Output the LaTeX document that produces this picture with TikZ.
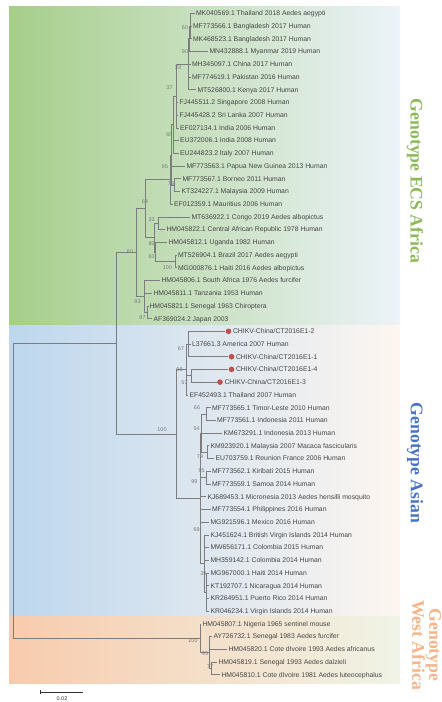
\documentclass[tikz,border=0pt]{standalone}
\usepackage{fontspec}
\setmainfont{Liberation Sans}
\newfontfamily\genofont{Liberation Serif}
\definecolor{treegray}{RGB}{125,125,125}
\definecolor{leafgray}{RGB}{70,70,70}
\definecolor{bsgray}{RGB}{120,120,120}
\definecolor{dotred}{RGB}{190,80,77}
\definecolor{ecsL}{RGB}{166,206,138}
\definecolor{ecsR}{RGB}{236,243,249}
\definecolor{asL}{RGB}{189,215,238}
\definecolor{asR}{RGB}{253,246,240}
\definecolor{waL}{RGB}{248,203,173}
\definecolor{waR}{RGB}{240,244,230}
\definecolor{ecsgreen}{RGB}{140,185,88}
\definecolor{asianblue}{RGB}{70,115,195}
\definecolor{waorange}{RGB}{245,180,135}
\begin{document}
\begin{tikzpicture}[x=1pt,y=-1pt,
  branch/.style={draw=treegray, line width=0.6pt},
  leaf/.style={anchor=base west, inner sep=0pt, xshift=1.3pt, yshift=-2.4pt, font=\fontsize{6.85}{8}\selectfont, text=leafgray},
  bs/.style={inner sep=0pt, font=\fontsize{5.4}{6}\selectfont, text=bsgray},
  reddot/.style={circle, fill=dotred, inner sep=0pt, minimum size=5.6pt, anchor=west, xshift=0.5pt},
  geno/.style={font=\genofont\bfseries\fontsize{17.7}{17}\selectfont, inner sep=0pt, rotate=-90, align=center}]
\useasboundingbox (0,0) rectangle (442,702);
% bands
\path[left color=ecsL, right color=ecsR] (9,6.7) rectangle (400,325.7);
\path[left color=asL, right color=asR] (9,325.7) rectangle (400,616.5);
\path[left color=waL, right color=waR] (9,616.5) rectangle (400,683.3);
% ECS leaves
\coordinate (l1) at (194.5,13.3);
\coordinate (l2) at (191.5,26.0);
\coordinate (l3) at (191.5,38.7);
\coordinate (l4) at (208,51.5);
\coordinate (l5) at (190.5,64.2);
\coordinate (l6) at (190.5,76.9);
\coordinate (l7) at (196,89.6);
\coordinate (l8) at (178,102.3);
\coordinate (l9) at (178,115.0);
\coordinate (l10) at (178.5,127.8);
\coordinate (l11) at (178.5,140.5);
\coordinate (l12) at (178.5,153.2);
\coordinate (l13) at (185,165.9);
\coordinate (l14) at (181,178.7);
\coordinate (l15) at (180,191.4);
\coordinate (l16) at (172.5,204.1);
\coordinate (l17) at (190,216.8);
\coordinate (l18) at (165,229.5);
\coordinate (l19) at (167,242.3);
\coordinate (l20) at (176.5,255.0);
\coordinate (l21) at (176.5,267.7);
\coordinate (l22) at (160,280.4);
\coordinate (l23) at (152,293.1);
\coordinate (l24) at (148,305.9);
\coordinate (l25) at (152,318.6);
% ECS internal
\coordinate (Na) at (190.7,26.0);
\coordinate (Nb) at (189.5,38.75);
\coordinate (Nc) at (188.3,64.2);
\coordinate (Nd) at (176.0,96.0);
\coordinate (Ne) at (173.5,124.6);
\coordinate (Ng) at (174.5,185.05);
\coordinate (Nf) at (171.5,154.8);
\coordinate (Niol) at (170,179.5);
\coordinate (Nthree) at (158.3,223.15);
\coordinate (Nhund) at (175.5,261.35);
\coordinate (Nsixty) at (155.5,251.8);
\coordinate (Neighty) at (154.5,237.5);
\coordinate (Nsixfour) at (145,208.5);
\coordinate (Nnineseven) at (147.5,312.25);
\coordinate (Nninethree) at (144,296.3);
\coordinate (Necs) at (136.7,252.4);
% Asian leaves
\coordinate (l26) at (225,331.3);
\coordinate (l27) at (190.5,344.0);
\coordinate (l28) at (228,356.7);
\coordinate (l29) at (228,369.4);
\coordinate (l30) at (216.5,382.1);
\coordinate (l31) at (188,394.9);
\coordinate (l32) at (210.5,407.6);
\coordinate (l33) at (215.5,420.3);
\coordinate (l34) at (222,433.0);
\coordinate (l35) at (209,445.7);
\coordinate (l36) at (214,458.5);
\coordinate (l37) at (210.5,471.2);
\coordinate (l38) at (210.5,483.9);
\coordinate (l39) at (206,496.6);
\coordinate (l40) at (210.5,509.3);
\coordinate (l41) at (209,522.0);
\coordinate (l42) at (209,534.8);
\coordinate (l43) at (209,547.5);
\coordinate (l44) at (209,560.2);
\coordinate (l45) at (209,572.9);
\coordinate (l46) at (209,585.6);
\coordinate (l47) at (209,598.3);
\coordinate (l48) at (209,611.1);
% Asian internal
\coordinate (Asixseven) at (188.3,344.0);
\coordinate (Afiveseven) at (191.5,375.75);
\coordinate (Aninetyeight) at (186,369.45);
\coordinate (Asixsix) at (206.7,413.95);
\coordinate (Aseventynine) at (207.3,452.1);
\coordinate (Afiftyfour) at (201.7,433.0);
\coordinate (Aninetyfive) at (206.7,477.55);
\coordinate (Athirtynine) at (206,592.0);
\coordinate (Asixtynine) at (204.5,563.4);
\coordinate (Aninetynine) at (200.5,498.2);
\coordinate (Nas) at (176.7,433.8);
% West Africa
\coordinate (l49) at (201,623.8);
\coordinate (l50) at (212,636.5);
\coordinate (l51) at (227,649.2);
\coordinate (l52) at (217,661.9);
\coordinate (l53) at (220,674.7);
\coordinate (Wseventyseven) at (211,668.3);
\coordinate (Wninetyfive) at (209,652.4);
\coordinate (Whundred) at (200,638.1);
\coordinate (Nea) at (116,343.1);
\coordinate (Root) at (13,490.6);
% branches
\foreach \p/\c in {Na/l1,Na/l2,Na/l3,Nb/Na,Nb/l4,Nc/Nb,Nc/l5,Nc/l6,Nc/l7,
  Nd/Nc,Nd/l8,Nd/l9,Nd/l10,Ne/Nd,Ne/l11,Ne/l12,Ng/l14,Ng/l15,Nf/Ne,Nf/l13,Nf/Ng,
  Niol/Nf,Niol/l16,Nthree/l17,Nthree/l18,Nhund/l20,Nhund/l21,Nsixty/l19,Nsixty/Nhund,
  Neighty/Nthree,Neighty/Nsixty,Nsixfour/Niol,Nsixfour/Neighty,
  Nnineseven/l24,Nnineseven/l25,Nninethree/l22,Nninethree/l23,Nninethree/Nnineseven,
  Necs/Nsixfour,Necs/Nninethree,
  Asixseven/l26,Asixseven/l27,Asixseven/l28,Afiveseven/l29,Afiveseven/l30,
  Aninetyeight/Asixseven,Aninetyeight/Afiveseven,Aninetyeight/l31,
  Asixsix/l32,Asixsix/l33,Aseventynine/l35,Aseventynine/l36,
  Afiftyfour/Asixsix,Afiftyfour/l34,Afiftyfour/Aseventynine,
  Aninetyfive/l37,Aninetyfive/l38,
  Athirtynine/l45,Athirtynine/l46,Athirtynine/l47,Athirtynine/l48,
  Asixtynine/l42,Asixtynine/l43,Asixtynine/l44,Asixtynine/Athirtynine,
  Aninetynine/Afiftyfour,Aninetynine/Aninetyfive,Aninetynine/l39,Aninetynine/l40,Aninetynine/l41,Aninetynine/Asixtynine,
  Nas/Aninetyeight,Nas/Aninetynine,
  Wseventyseven/l52,Wseventyseven/l53,Wninetyfive/l50,Wninetyfive/l51,Wninetyfive/Wseventyseven,
  Whundred/l49,Whundred/Wninetyfive,
  Nea/Necs,Nea/Nas,Root/Nea,Root/Whundred}
  \draw[branch] (\p) |- (\c);
% leaf labels
\node[leaf] (t1) at (l1) {MK040569.1 Thailand 2018 Aedes aegypti};
\node[leaf] (t2) at (l2) {MF773566.1 Bangladesh 2017 Human};
\node[leaf] (t3) at (l3) {MK468523.1 Bangladesh 2017 Human};
\node[leaf] (t4) at (l4) {MN432888.1 Myanmar 2019 Human};
\node[leaf] (t5) at (l5) {MH345097.1 China 2017 Human};
\node[leaf] (t6) at (l6) {MF774619.1 Pakistan 2016 Human};
\node[leaf] (t7) at (l7) {MT526800.1 Kenya 2017 Human};
\node[leaf] (t8) at (l8) {FJ445511.2 Singapore 2008 Human};
\node[leaf] (t9) at (l9) {FJ445428.2 Sri Lanka 2007 Human};
\node[leaf] (t10) at (l10) {EF027134.1 India 2006 Human};
\node[leaf] (t11) at (l11) {EU372006.1 India 2008 Human};
\node[leaf] (t12) at (l12) {EU244823.2 Italy 2007 Human};
\node[leaf] (t13) at (l13) {MF773563.1 Papua New Guinea 2013 Human};
\node[leaf] (t14) at (l14) {MF773567.1 Borneo 2011 Human};
\node[leaf] (t15) at (l15) {KT324227.1 Malaysia 2009 Human};
\node[leaf] (t16) at (l16) {EF012359.1 Mauritius 2006 Human};
\node[leaf] (t17) at (l17) {MT636922.1 Congo 2019 Aedes albopictus};
\node[leaf] (t18) at (l18) {HM045822.1 Central African Republic 1978 Human};
\node[leaf] (t19) at (l19) {HM045812.1 Uganda 1982 Human};
\node[leaf] (t20) at (l20) {MT526904.1 Brazil 2017 Aedes aegypti};
\node[leaf] (t21) at (l21) {MG000876.1 Haiti 2016 Aedes albopictus};
\node[leaf] (t22) at (l22) {HM045806.1 South Africa 1976 Aedes furcifer};
\node[leaf] (t23) at (l23) {HM045811.1 Tanzania 1953 Human};
\node[leaf] (t24) at (l24) {HM045821.1 Senegal 1963 Chiroptera};
\node[leaf] (t25) at (l25) {AF369024.2 Japan 2003};
\node[reddot] (d26) at (l26) {};
\node[leaf] (t26) at (d26.east) {CHIKV-China/CT2016E1-2};
\node[leaf] (t27) at (l27) {L37661.3 America 2007 Human};
\node[reddot] (d28) at (l28) {};
\node[leaf] (t28) at (d28.east) {CHIKV-China/CT2016E1-1};
\node[reddot] (d29) at (l29) {};
\node[leaf] (t29) at (d29.east) {CHIKV-China/CT2016E1-4};
\node[reddot] (d30) at (l30) {};
\node[leaf] (t30) at (d30.east) {CHIKV-China/CT2016E1-3};
\node[leaf] (t31) at (l31) {EF452493.1 Thailand 2007 Human};
\node[leaf] (t32) at (l32) {MF773565.1 Timor-Leste 2010 Human};
\node[leaf] (t33) at (l33) {MF773561.1 Indonesia 2011 Human};
\node[leaf] (t34) at (l34) {KM673291.1 Indonesia 2013 Human};
\node[leaf] (t35) at (l35) {KM923920.1 Malaysia 2007 Macaca fascicularis};
\node[leaf] (t36) at (l36) {EU703759.1 Reunion France 2006 Human};
\node[leaf] (t37) at (l37) {MF773562.1 Kiribati 2015 Human};
\node[leaf] (t38) at (l38) {MF773559.1 Samoa 2014 Human};
\node[leaf] (t39) at (l39) {KJ689453.1 Micronesia 2013 Aedes hensilli mosquito};
\node[leaf] (t40) at (l40) {MF773554.1 Philippines 2016 Human};
\node[leaf] (t41) at (l41) {MG921596.1 Mexico 2016 Human};
\node[leaf] (t42) at (l42) {KJ451624.1 British Virgin Islands 2014 Human};
\node[leaf] (t43) at (l43) {MW656171.1 Colombia 2015 Human};
\node[leaf] (t44) at (l44) {MH359142.1 Colombia 2014 Human};
\node[leaf] (t45) at (l45) {MG967000.1 Haiti 2014 Human};
\node[leaf] (t46) at (l46) {KT192707.1 Nicaragua 2014 Human};
\node[leaf] (t47) at (l47) {KR264951.1 Puerto Rico 2014 Human};
\node[leaf] (t48) at (l48) {KR046234.1 Virgin Islands 2014 Human};
\node[leaf] (t49) at (l49) {HM045807.1 Nigeria 1965 sentinel mouse};
\node[leaf] (t50) at (l50) {AY726732.1 Senegal 1983 Aedes furcifer};
\node[leaf] (t51) at (l51) {HM045820.1 Cote dIvoire 1993 Aedes africanus};
\node[leaf] (t52) at (l52) {HM045819.1 Senegal 1993 Aedes dalzieli};
\node[leaf] (t53) at (l53) {HM045810.1 Cote dIvoire 1981 Aedes luteocephalus};
% bootstrap values
\node[bs] (b1) at (185,28) {60};
\node[bs] (b2) at (185,51.5) {90};
\node[bs] (b3) at (178,68) {33};
\node[bs] (b4) at (169.5,88) {37};
\node[bs] (b5) at (169.3,135) {65};
\node[bs] (b6) at (165,167) {95};
\node[bs] (b7) at (171,184) {78};
\node[bs] (b8) at (145,201.5) {64};
\node[bs] (b9) at (130,252) {60};
\node[bs] (b10) at (151.7,219.3) {33};
\node[bs] (b11) at (151.7,243.3) {80};
\node[bs] (b12) at (151.7,256.7) {60};
\node[bs] (b13) at (167.5,267.3) {100};
\node[bs] (b14) at (137.5,302) {93};
\node[bs] (b15) at (142.5,318) {97};
\node[bs] (b16) at (162,430) {100};
\node[bs] (b17) at (181,348.3) {67};
\node[bs] (b18) at (179.5,370) {98};
\node[bs] (b19) at (184.5,383) {57};
\node[bs] (b20) at (197,408) {66};
\node[bs] (b21) at (196.7,428.3) {54};
\node[bs] (b22) at (200,456.7) {79};
\node[bs] (b23) at (201.7,471) {95};
\node[bs] (b24) at (194.3,481.7) {99};
\node[bs] (b25) at (196.7,530) {69};
\node[bs] (b26) at (203.3,573.3) {39};
\node[bs] (b27) at (193,641) {100};
\node[bs] (b28) at (205,654) {95};
\node[bs] (b29) at (210,667) {77};
% scale bar
\coordinate (sbA) at (40.7,692);
\coordinate (sbB) at (83.3,692);
\draw[line width=0.6pt, draw=black!80] (sbA) -- (sbB);
\draw[line width=0.6pt, draw=black!80] ([yshift=1.8pt]sbA) -- ([yshift=-1.8pt]sbA);
\node[bs, text=black!80] (sbl) at (62,698.5) {0.02};
% genotype labels
\node[geno, text=ecsgreen] (gECS) at (415,181) {Genotype ECS Africa};
\node[geno, text=asianblue] (gAS) at (415,463) {Genotype Asian};
\node[geno, text=waorange] (gWA) at (426.5,645) {Genotype\\West Africa};
\end{tikzpicture}
\end{document}
